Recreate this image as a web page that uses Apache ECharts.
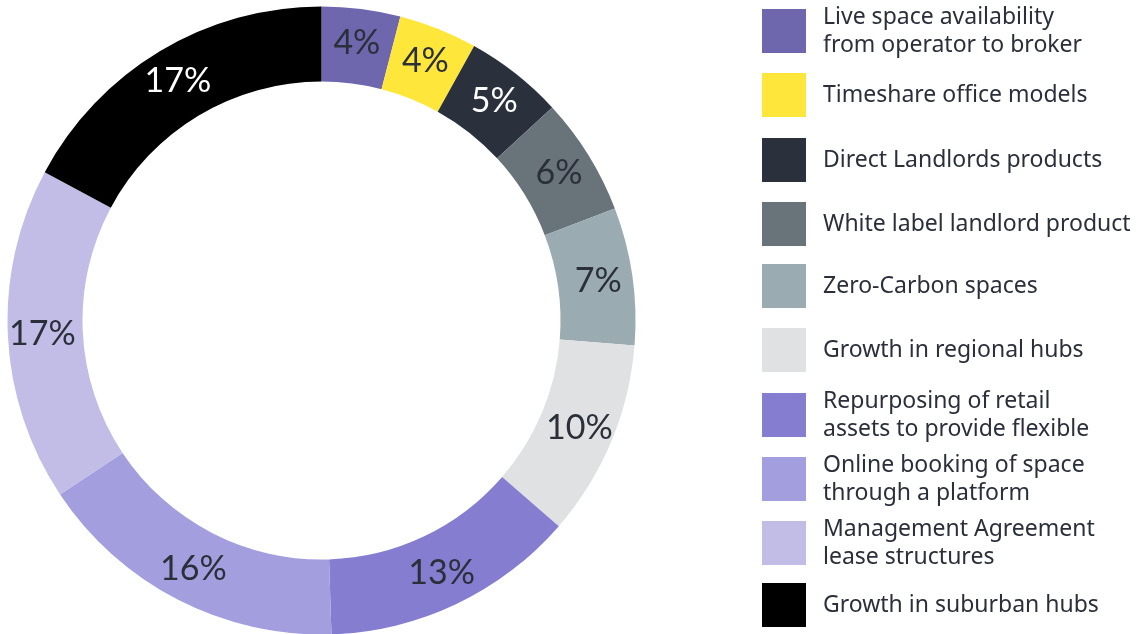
<!DOCTYPE html>
<html>
<head>
<meta charset="utf-8">
<script src="https://cdn.jsdelivr.net/npm/echarts@6/dist/echarts.min.js"></script>
<style>
  html, body { margin: 0; padding: 0; background: #ffffff; }
  #chart { width: 1141px; height: 634px; }
</style>
</head>
<body>
<div id="chart"></div>
<script>
// Categories (in ring order, clockwise from 12 o'clock)
const categories = [
  'Live space availability from operator to broker',
  'Timeshare office models',
  'Direct Landlords products',
  'White label landlord product',
  'Zero-Carbon spaces',
  'Growth in regional hubs',
  'Repurposing of retail assets to provide flexible',
  'Online booking of space through a platform',
  'Management Agreement lease structures',
  'Growth in suburban hubs'
];

// Share of respondents, in percent
const values = [4, 4, 5, 6, 7, 10, 13, 16, 17, 17];

// Legend wording, wrapped as printed
const legendLabels = [
  'Live space availability\nfrom operator to broker',
  'Timeshare office models',
  'Direct Landlords products',
  'White label landlord product',
  'Zero-Carbon spaces',
  'Growth in regional hubs',
  'Repurposing of retail\nassets to provide flexible',
  'Online booking of space\nthrough a platform',
  'Management Agreement\nlease structures',
  'Growth in suburban hubs'
];

const colors = [
  '#6e67ae', '#ffe63b', '#2a303c', '#69747a', '#9aabb1',
  '#e0e1e2', '#857dd0', '#a39ede', '#c1bde6', '#000000'
];
const labelColors = [
  '#2a2f3a', '#2a2f3a', '#ffffff', '#2a2f3a', '#2a2f3a',
  '#2a2f3a', '#2a2f3a', '#2a2f3a', '#2a2f3a', '#ffffff'
];

const textColor = '#2a2f3a';
const legendFont = '"Noto Sans", "Open Sans", sans-serif';
const labelFont = 'Lato, "Noto Sans", sans-serif';
const iconSize = 44;
const lineH = 28;
// top edge of each legend swatch
const swatchTops = [9, 73, 138, 202, 264, 328, 393, 457, 521, 583];

const legends = categories.map((name, i) => {
  const lines = legendLabels[i].split('\n').length;
  const single = lines === 1;
  // single-line entries sit a little below the swatch centre
  const padTop = single ? 11 : 0;
  const textH = lines * lineH + padTop;
  const shift = Math.max(0, (textH - iconSize) / 2);
  return {
    show: true,
    orient: 'vertical',
    left: 762,
    top: swatchTops[i] - shift,
    padding: 0,
    itemGap: 0,
    itemWidth: iconSize,
    itemHeight: iconSize,
    icon: 'rect',
    selectedMode: false,
    data: [name],
    formatter: () => legendLabels[i],
    textStyle: {
      fontFamily: legendFont,
      fontSize: 23,
      lineHeight: lineH,
      color: textColor,
      padding: [padTop, 0, 0, 12]
    }
  };
});

const chart = echarts.init(document.getElementById('chart'), null, { renderer: 'canvas' });
chart.setOption({
  animation: false,
  backgroundColor: '#ffffff',
  color: colors,
  legend: legends,
  series: [{
    type: 'pie',
    center: [321.5, 320.5],
    radius: [239, 314],
    startAngle: 90,
    clockwise: true,
    avoidLabelOverlap: false,
    silent: true,
    label: {
      show: true,
      position: 'inside',
      formatter: '{c}%',
      fontFamily: labelFont,
      fontSize: 34,
      fontWeight: 'normal'
    },
    labelLine: { show: false },
    itemStyle: { borderWidth: 0 },
    data: categories.map((name, i) => ({
      name: name,
      value: values[i],
      itemStyle: { color: colors[i] },
      label: { color: labelColors[i] }
    }))
  }]
});
</script>
</body>
</html>
